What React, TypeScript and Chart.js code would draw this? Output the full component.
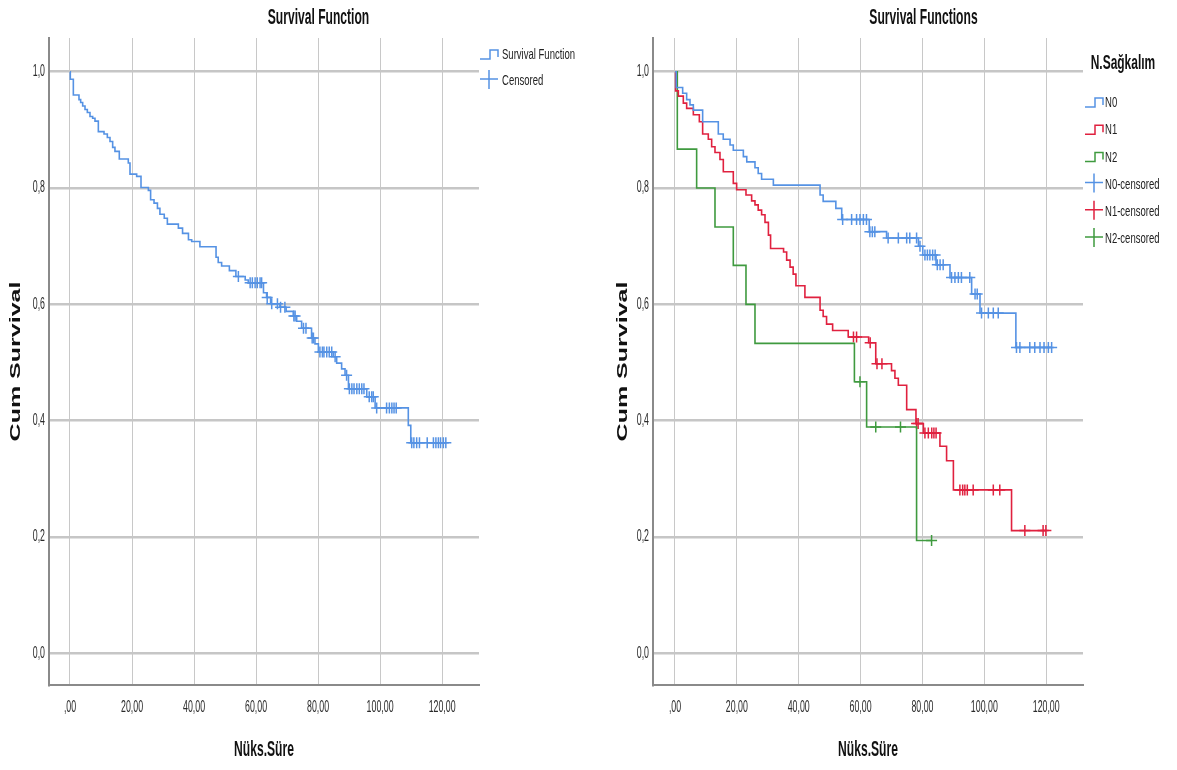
import React, { useEffect, useRef } from "react";
import { Chart, registerables } from "chart.js";

Chart.register(...registerables);

const FONT = '"Liberation Sans", Arial, "DejaVu Sans", sans-serif';

// ---------- axis ticks ----------
const xTickValues = [0, 20, 40, 60, 80, 100, 120];
const yTickValues = [0, 0.2, 0.4, 0.6, 0.8, 1.0];

// ---------- left chart: overall survival ----------
const allEventTimes = [0.1, 1.08, 2.9, 3.44, 4.09, 4.84, 5.59, 6.45, 7.31, 8.06, 9.14, 10.97, 12.04, 12.9, 13.76, 14.5, 15.9, 18.8, 19.35, 21.5, 22.9, 25.27, 26.0, 27.1, 28.2, 29.0, 30.4, 31.4, 34.95, 36.3, 38.2, 39.25, 41.9, 47.1, 47.8, 48.9, 51.4, 53.5, 56.5, 57.5, 62.4, 63.4, 64.7, 67.7, 69.7, 72.0, 73.1, 74.7, 77.9, 79.0, 80.1, 84.9, 86.0, 87.6, 88.7, 89.8, 95.7, 98.4, 109.1, 109.9];
const allEventSurv = [0.987, 0.960, 0.952, 0.947, 0.941, 0.935, 0.930, 0.923, 0.920, 0.915, 0.897, 0.893, 0.887, 0.880, 0.870, 0.863, 0.850, 0.843, 0.824, 0.820, 0.801, 0.796, 0.780, 0.774, 0.765, 0.755, 0.748, 0.738, 0.731, 0.722, 0.711, 0.708, 0.699, 0.681, 0.672, 0.666, 0.658, 0.648, 0.642, 0.637, 0.620, 0.612, 0.601, 0.595, 0.588, 0.580, 0.571, 0.559, 0.542, 0.532, 0.518, 0.510, 0.499, 0.489, 0.478, 0.455, 0.441, 0.422, 0.392, 0.362];
const allCensorTimes = [54.3, 58.1, 58.8, 59.7, 60.4, 61.3, 61.8, 63.6, 65.05, 66.9, 67.9, 69.3, 72.2, 72.6, 75.3, 76.1, 78.1, 78.5, 80.6, 81.4, 81.9, 82.8, 83.6, 84.4, 85.5, 89.2, 90.1, 90.9, 91.6, 92.5, 93.3, 94.1, 94.8, 96.5, 97.3, 97.8, 98.9, 102.1, 103.0, 103.8, 104.5, 105.2, 110.2, 110.9, 111.8, 112.7, 115.2, 117.2, 118.0, 118.8, 119.5, 120.4, 121.2];
const allEndTime = 121.2;

// ---------- right chart: by N.Sağkalım ----------
const n0EventTimes = [0.4, 2.48, 3.77, 4.85, 5.93, 8.94, 14.0, 15.6, 17.8, 18.85, 22.1, 23.2, 25.86, 26.9, 28.0, 31.8, 46.9, 47.9, 52.0, 53.9, 62.8, 68.4, 78.7, 80.1, 84.4, 88.9, 95.9, 98.6, 110.2];
const n0EventSurv = [0.973, 0.963, 0.952, 0.943, 0.934, 0.914, 0.893, 0.884, 0.874, 0.865, 0.854, 0.845, 0.835, 0.825, 0.815, 0.805, 0.788, 0.777, 0.765, 0.746, 0.725, 0.714, 0.700, 0.685, 0.668, 0.646, 0.618, 0.585, 0.526];
const n0CensorTimes = [54.2, 57.1, 58.7, 59.8, 60.9, 61.9, 63.0, 63.8, 64.6, 68.9, 72.2, 74.9, 75.9, 78.1, 79.2, 80.8, 81.6, 82.4, 83.3, 84.1, 84.8, 85.7, 86.7, 89.4, 90.5, 91.6, 92.6, 95.3, 97.0, 97.7, 99.1, 101.3, 102.9, 104.5, 110.4, 111.5, 114.7, 116.3, 118.0, 119.3, 120.7, 121.76];
const n0EndTime = 121.76;

const n1EventTimes = [0.2, 1.08, 2.69, 3.77, 5.93, 7.87, 8.94, 10.77, 11.85, 12.93, 14.54, 15.62, 18.85, 19.93, 22.95, 24.78, 25.86, 26.9, 28.0, 29.1, 30.2, 30.9, 35.1, 36.1, 37.2, 38.2, 39.1, 42.0, 46.9, 47.9, 49.0, 50.96, 56.0, 62.6, 64.9, 70.0, 71.1, 72.2, 74.9, 77.9, 80.3, 85.65, 87.8, 90.0, 108.8];
const n1EventSurv = [0.967, 0.958, 0.946, 0.937, 0.926, 0.914, 0.893, 0.884, 0.871, 0.861, 0.849, 0.828, 0.808, 0.797, 0.788, 0.778, 0.771, 0.762, 0.754, 0.741, 0.719, 0.696, 0.690, 0.676, 0.664, 0.652, 0.632, 0.612, 0.590, 0.579, 0.566, 0.555, 0.544, 0.534, 0.498, 0.486, 0.473, 0.461, 0.419, 0.395, 0.379, 0.356, 0.331, 0.281, 0.211];
const n1CensorTimes = [57.7, 58.7, 63.1, 65.3, 66.9, 78.1, 78.6, 80.8, 81.9, 83.0, 83.7, 84.4, 92.1, 93.0, 93.7, 94.5, 96.4, 102.9, 105.0, 113.1, 119.0, 119.9];
const n1EndTime = 119.9;

const n2EventTimes = [0.75, 7.0, 12.93, 18.85, 22.95, 25.86, 58.0, 61.95, 78.1];
const n2EventSurv = [0.867, 0.800, 0.733, 0.667, 0.600, 0.533, 0.467, 0.389, 0.194];
const n2CensorTimes = [59.8, 64.9, 72.9, 82.95];
const n2EndTime = 82.95;

// ---------- labels ----------
const leftTitle = "Survival Function";
const rightTitle = "Survival Functions";
const xAxisTitle = "Nüks.Süre";
const yAxisTitle = "Cum Survival";
const rightLegendTitle = "N.Sağkalım";

const BLUE = "#5592e4";
const RED = "#e0213f";
const GREEN = "#3f9a3f";

type Pt = { x: number; y: number };

function stepPoints(times: number[], surv: number[], end: number): Pt[] {
  const pts: Pt[] = [{ x: 0, y: 1 }];
  times.forEach((t, i) => pts.push({ x: t, y: surv[i] }));
  pts.push({ x: end, y: surv[surv.length - 1] });
  return pts;
}

function censorPoints(times: number[], eventTimes: number[], eventSurv: number[]): Pt[] {
  return times.map((t) => {
    let s = 1;
    for (let i = 0; i < eventTimes.length; i++) {
      if (eventTimes[i] <= t) s = eventSurv[i];
    }
    return { x: t, y: s };
  });
}

function fmtX(v: number) {
  return v === 0 ? ",00" : v.toFixed(2).replace(".", ",");
}
function fmtY(v: number) {
  return v.toFixed(1).replace(".", ",");
}

function drawText(
  ctx: CanvasRenderingContext2D,
  text: string,
  x: number,
  y: number,
  font: string,
  sx: number,
  align: CanvasTextAlign,
  rotate: boolean,
  color: string
) {
  ctx.save();
  ctx.translate(x, y);
  ctx.scale(sx, 1);
  if (rotate) ctx.rotate(-Math.PI / 2);
  ctx.font = font;
  ctx.textAlign = align;
  ctx.textBaseline = "middle";
  ctx.fillStyle = color;
  ctx.fillText(text, 0, 0);
  ctx.restore();
}

type LegendItem = { label: string; color: string; kind: "step" | "cross" };
type DecoCfg = {
  title: string;
  titleX: number;
  yTitleX: number;
  legendTitle?: string;
  legendTitleX?: number;
  legendTitleY?: number;
  iconX: number;
  textX: number;
  legendY0: number;
  legendStep: number;
  items: LegendItem[];
};

function makeDeco(cfg: DecoCfg) {
  return {
    id: "deco",
    afterDraw(chart: any) {
      const ctx: CanvasRenderingContext2D = chart.ctx;
      const xs = chart.scales.x;
      const ys = chart.scales.y;
      const area = chart.chartArea;
      const tickColor = "#2a2a2a";
      yTickValues.forEach((v) =>
        drawText(ctx, fmtY(v), area.left - 4, ys.getPixelForValue(v), `16px ${FONT}`, 0.55, "right", false, tickColor)
      );
      xTickValues.forEach((v) =>
        drawText(ctx, fmtX(v), xs.getPixelForValue(v), 708, `16px ${FONT}`, 0.55, "center", false, tickColor)
      );
      drawText(ctx, cfg.title, cfg.titleX, 18, `bold 22px ${FONT}`, 0.55, "center", false, "#111");
      drawText(ctx, xAxisTitle, (area.left + area.right) / 2, 750, `bold 22px ${FONT}`, 0.55, "center", false, "#111");
      drawText(ctx, yAxisTitle, cfg.yTitleX, (area.top + area.bottom) / 2, `bold 25px ${FONT}`, 0.55, "center", true, "#111");

      if (cfg.legendTitle) {
        drawText(ctx, cfg.legendTitle, cfg.legendTitleX!, cfg.legendTitleY!, `bold 21px ${FONT}`, 0.57, "left", false, "#111");
      }
      cfg.items.forEach((it, i) => {
        const y = cfg.legendY0 + i * cfg.legendStep;
        const x0 = cfg.iconX;
        ctx.save();
        ctx.strokeStyle = it.color;
        ctx.lineWidth = 1.5;
        ctx.beginPath();
        if (it.kind === "step") {
          ctx.moveTo(x0, y + 4);
          ctx.lineTo(x0 + 10, y + 4);
          ctx.lineTo(x0 + 10, y - 5);
          ctx.lineTo(x0 + 18, y - 5);
          ctx.lineTo(x0 + 18, y + 2);
        } else {
          ctx.moveTo(x0, y - 2);
          ctx.lineTo(x0 + 18, y - 2);
          ctx.moveTo(x0 + 9, y - 11);
          ctx.lineTo(x0 + 9, y + 8);
        }
        ctx.stroke();
        ctx.restore();
        drawText(ctx, it.label, cfg.textX, y, `15px ${FONT}`, 0.635, "left", false, "#222");
      });
    },
  };
}

function lineDs(pts: Pt[], color: string) {
  return {
    type: "line",
    data: pts,
    stepped: true,
    borderColor: color,
    borderWidth: 1.6,
    pointRadius: 0,
    fill: false,
  };
}
function censorDs(pts: Pt[], color: string) {
  return {
    type: "line",
    data: pts,
    showLine: false,
    pointStyle: "cross",
    pointRadius: 5.5,
    pointBorderColor: color,
    pointBackgroundColor: color,
    pointBorderWidth: 1.5,
  };
}

function makeConfig(datasets: any[], xMin: number, xMax: number, padRight: number, yAxisWidth: number, deco: DecoCfg) {
  return {
    type: "line",
    data: { datasets },
    options: {
      responsive: false,
      animation: false,
      events: [],
      layout: { padding: { top: 38, right: padRight, left: 0, bottom: 0 } },
      plugins: { legend: { display: false }, title: { display: false }, tooltip: { enabled: false } },
      scales: {
        x: {
          type: "linear",
          min: xMin,
          max: xMax,
          afterBuildTicks: (s: any) => {
            s.ticks = xTickValues.map((v) => ({ value: v }));
          },
          afterFit: (s: any) => {
            s.height = 85;
          },
          ticks: { display: false },
          grid: { color: "#c8c8c8", lineWidth: 1, drawTicks: false },
          border: { color: "#8a8a8a", width: 2 },
        },
        y: {
          type: "linear",
          min: -0.0545,
          max: 1.058,
          afterBuildTicks: (s: any) => {
            s.ticks = yTickValues.map((v) => ({ value: v }));
          },
          afterFit: (s: any) => {
            s.width = yAxisWidth;
          },
          ticks: { display: false },
          grid: { color: "#c6c6c6", lineWidth: 2.5, drawTicks: false },
          border: { color: "#8a8a8a", width: 2 },
        },
      },
    },
    plugins: [makeDeco(deco)],
  };
}

function ChartCanvas({ width, left, build }: { width: number; left: number; build: () => any }) {
  const ref = useRef<HTMLCanvasElement | null>(null);
  useEffect(() => {
    if (!ref.current) return;
    const chart = new Chart(ref.current, build());
    return () => chart.destroy();
  }, []);
  return (
    <canvas
      ref={ref}
      width={width}
      height={770}
      style={{ position: "absolute", left, top: 0, width, height: 770 }}
    />
  );
}

export default function App() {
  const buildLeft = () =>
    makeConfig(
      [
        lineDs(stepPoints(allEventTimes, allEventSurv, allEndTime), BLUE),
        censorDs(censorPoints(allCensorTimes, allEventTimes, allEventSurv), BLUE),
      ],
      -6.77,
      131.9,
      121,
      49,
      {
        title: leftTitle,
        titleX: 318.5,
        yTitleX: 16,
        iconX: 480,
        textX: 502,
        legendY0: 55,
        legendStep: 26,
        items: [
          { label: "Survival Function", color: BLUE, kind: "step" },
          { label: "Censored", color: BLUE, kind: "cross" },
        ],
      }
    );

  const buildRight = () =>
    makeConfig(
      [
        lineDs(stepPoints(n0EventTimes, n0EventSurv, n0EndTime), BLUE),
        lineDs(stepPoints(n1EventTimes, n1EventSurv, n1EndTime), RED),
        lineDs(stepPoints(n2EventTimes, n2EventSurv, n2EndTime), GREEN),
        censorDs(censorPoints(n0CensorTimes, n0EventTimes, n0EventSurv), BLUE),
        censorDs(censorPoints(n1CensorTimes, n1EventTimes, n1EventSurv), RED),
        censorDs(censorPoints(n2CensorTimes, n2EventTimes, n2EventSurv), GREEN),
      ],
      -7.11,
      131.9,
      94,
      53,
      {
        title: rightTitle,
        titleX: 323.5,
        yTitleX: 23,
        legendTitle: rightLegendTitle,
        legendTitleX: 490.7,
        legendTitleY: 63,
        iconX: 485,
        textX: 505,
        legendY0: 103,
        legendStep: 27.2,
        items: [
          { label: "N0", color: BLUE, kind: "step" },
          { label: "N1", color: RED, kind: "step" },
          { label: "N2", color: GREEN, kind: "step" },
          { label: "N0-censored", color: BLUE, kind: "cross" },
          { label: "N1-censored", color: RED, kind: "cross" },
          { label: "N2-censored", color: GREEN, kind: "cross" },
        ],
      }
    );

  return (
    <div style={{ position: "absolute", left: 0, top: 0, width: 1177, height: 770, background: "#fff", overflow: "hidden" }}>
      <ChartCanvas width={600} left={0} build={buildLeft} />
      <ChartCanvas width={577} left={600} build={buildRight} />
    </div>
  );
}
